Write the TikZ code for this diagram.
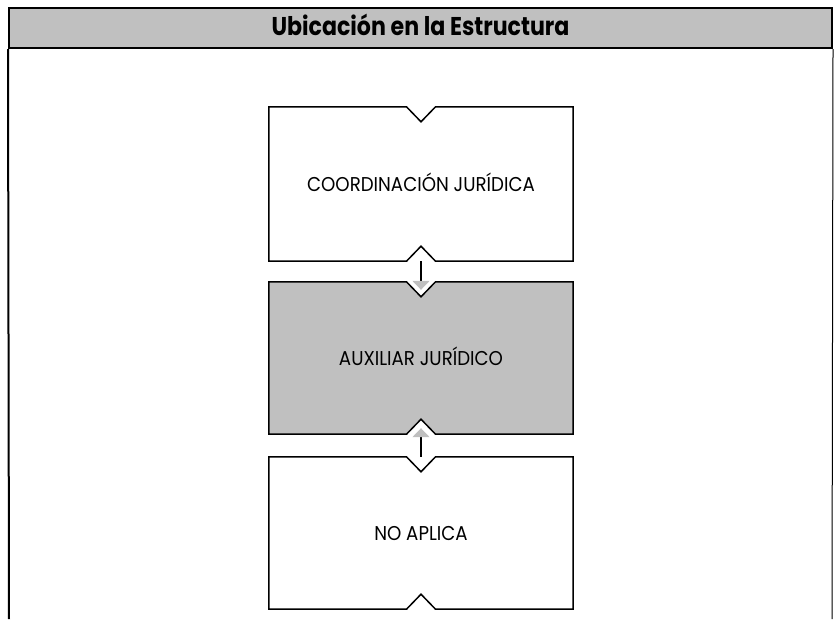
\documentclass[tikz,border=0pt]{standalone}
\usepackage{fontspec}
\setmainfont{Poppins}
\newfontfamily\boxfont[FakeStretch=0.91]{Poppins}
\newfontfamily\titlefont[FakeStretch=0.86]{Poppins}
\usetikzlibrary{arrows.meta}
\definecolor{silver}{HTML}{C0C0C0}
\newcommand\notchpath[1]{(#1.north west) -- ([xshift=-14.5pt]#1.north) -- ([yshift=-15pt]#1.north) -- ([xshift=14.5pt]#1.north) -- (#1.north east) -- (#1.south east) -- ([xshift=14.5pt]#1.south) -- ([yshift=15pt]#1.south) -- ([xshift=-14.5pt]#1.south) -- (#1.south west) -- cycle}
\tikzset{
  framestyle/.style={line width=2pt, draw=black},
  posbox/.style={minimum width=304pt, minimum height=#1, inner sep=0pt},
  boxtext/.style={anchor=base, inner sep=0pt, font=\boxfont\fontsize{20}{24}\selectfont},
  outline/.style={line width=1.5pt, line join=miter},
  conn/.style={line width=1.5pt, -{Triangle[length=9pt,width=17pt,color=black!25]}}
}
\begin{document}
\begin{tikzpicture}[x=1pt,y=-1pt]
\useasboundingbox (0,0) rectangle (834,619);
\node[framestyle, fill=silver, minimum width=823pt, minimum height=40pt, inner sep=0pt] (head) at (420.5,28) {};
\node[anchor=base, inner sep=0pt, font=\titlefont\fontsize{25.7}{30}\selectfont\bfseries] (title) at (420.5,35) {Ubicación en la Estructura};
\coordinate (bl) at (9,619);
\coordinate (br) at (832,619);
\draw[framestyle] (head.south west) -- (bl);
\draw[line width=1pt] (head.south east) -- (br);

\node[posbox=154pt] (b1) at (421,184) {};
\node[posbox=152pt] (b2) at (421,358) {};
\node[posbox=152pt] (b3) at (421,533) {};
\draw[outline] \notchpath{b1};
\draw[outline, fill=silver] \notchpath{b2};
\draw[outline] \notchpath{b3};
\node[boxtext] (t1) at (421,191) {COORDINACIÓN JURÍDICA};
\node[boxtext] (t2) at (421,365) {AUXILIAR JURÍDICO};
\node[boxtext] (t3) at (421,540) {NO APLICA};

\draw[conn] (b1.south) -- ([yshift=-8pt]b2.north);
\draw[conn] (b3.north) -- ([yshift=6pt]b2.south);
\end{tikzpicture}
\end{document}
